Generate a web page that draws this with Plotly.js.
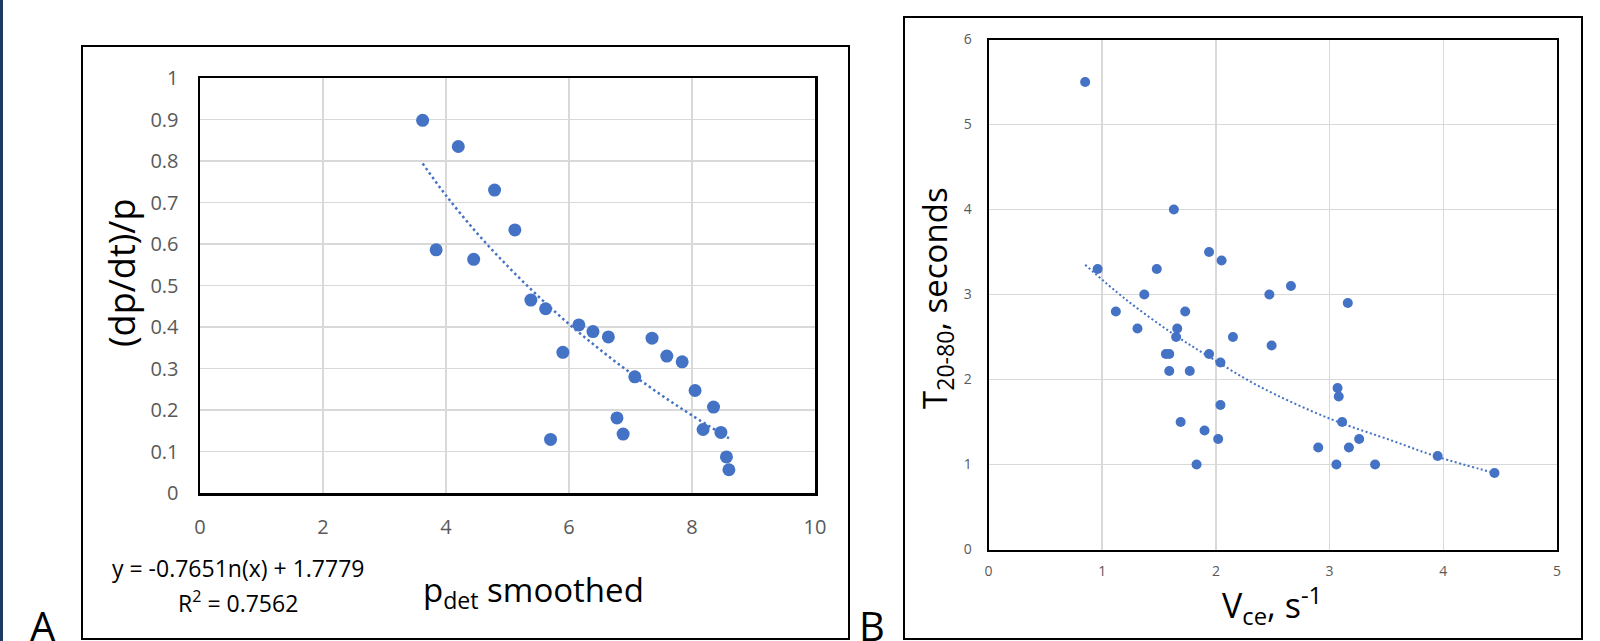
<!DOCTYPE html>
<html>
<head>
<meta charset="utf-8">
<script src="https://cdn.plot.ly/plotly-3.0.1.min.js"></script>
<style>
  html, body { margin: 0; padding: 0; background: #ffffff; }
  #chart { width: 1600px; height: 641px; }
</style>
</head>
<body>
<div id="chart"></div>
<script>
// ---------- Panel A data ----------
const pdetSmoothed = [3.62, 4.20, 4.79, 5.12, 3.84, 4.45, 5.38, 5.62, 6.16, 6.39, 6.64, 5.90, 7.35, 7.59, 7.84, 7.07, 8.05, 8.35, 6.78, 6.88, 8.18, 8.47, 5.70, 8.56, 8.60];
const dpdtOverP    = [0.898, 0.835, 0.730, 0.634, 0.586, 0.563, 0.465, 0.444, 0.405, 0.389, 0.376, 0.339, 0.373, 0.330, 0.316, 0.280, 0.247, 0.207, 0.181, 0.142, 0.153, 0.146, 0.129, 0.087, 0.056];
// log trendline as drawn (y = -0.765 ln(x) + 1.7779)
const trendAx = [3.62, 4.0, 4.5, 5.0, 5.5, 6.0, 6.5, 7.0, 7.5, 8.0, 8.6];
const trendAy = [0.794, 0.717, 0.627, 0.547, 0.474, 0.407, 0.346, 0.289, 0.236, 0.187, 0.132];
const equationText = "y = -0.7651n(x) + 1.7779";
const r2Text = "R<sup>2</sup> = 0.7562";

// ---------- Panel B data ----------
const vce = [0.85, 0.96, 1.48, 1.63, 1.94, 2.05, 1.37, 2.47, 2.66, 3.16, 1.12, 1.73, 1.31, 1.66, 1.65, 2.15, 2.49, 1.56, 1.59, 1.94, 2.04, 1.59, 1.77, 2.04, 1.69, 1.90, 2.02, 1.83, 3.07, 3.08, 3.11, 3.26, 2.90, 3.17, 3.06, 3.40, 3.95, 4.45];
const t2080 = [5.5, 3.3, 3.3, 4.0, 3.5, 3.4, 3.0, 3.0, 3.1, 2.9, 2.8, 2.8, 2.6, 2.6, 2.5, 2.5, 2.4, 2.3, 2.3, 2.3, 2.2, 2.1, 2.1, 1.7, 1.5, 1.4, 1.3, 1.0, 1.9, 1.8, 1.5, 1.3, 1.2, 1.2, 1.0, 1.0, 1.1, 0.9];
// trendline points
const trendBx = [0.85, 1.2, 1.62, 1.95, 2.38, 3.0, 3.55, 3.95, 4.45];
const trendBy = [3.35, 2.95, 2.54, 2.26, 1.92, 1.54, 1.28, 1.09, 0.90];

// ---------- helpers (page pixels -> paper fractions) ----------
const W = 1600, H = 641;
const px = v => v / W;
const py = v => 1 - v / H;

const blue = '#4472c4';
const tickGray = '#595959';
const gridCol = '#d9d9d9';
const titleFont = "'Open Sans', 'Noto Sans', sans-serif";

const traces = [
  { x: trendAx, y: trendAy, xaxis: 'x', yaxis: 'y', mode: 'lines', type: 'scatter',
    line: { color: blue, width: 2.5, dash: '2.5px,3px', shape: 'spline' }, hoverinfo: 'skip' },
  { x: pdetSmoothed, y: dpdtOverP, xaxis: 'x', yaxis: 'y', mode: 'markers', type: 'scatter',
    marker: { color: blue, size: 13 } },
  { x: trendBx, y: trendBy, xaxis: 'x2', yaxis: 'y2', mode: 'lines', type: 'scatter',
    line: { color: blue, width: 2, dash: '2px,2.5px', shape: 'spline' }, hoverinfo: 'skip' },
  { x: vce, y: t2080, xaxis: 'x2', yaxis: 'y2', mode: 'markers', type: 'scatter',
    marker: { color: blue, size: 10 } }
];

const axisCommon = {
  showgrid: true, gridcolor: gridCol, gridwidth: 1.5, zeroline: false,
  showline: true, mirror: true, linecolor: '#000000', ticks: '', fixedrange: true
};

const layout = {
  width: W, height: H, autosize: false,
  margin: { l: 0, r: 0, t: 0, b: 0, pad: 0 },
  paper_bgcolor: '#ffffff', plot_bgcolor: '#ffffff',
  showlegend: false,
  xaxis: Object.assign({}, axisCommon, {
    domain: [px(200), px(815)], range: [0, 10], dtick: 2, tick0: 0, linewidth: 2.5,
    anchor: 'y', tickfont: { family: titleFont, size: 20, color: tickGray }, ticklabelstandoff: 14
  }),
  yaxis: Object.assign({}, axisCommon, {
    domain: [py(493), py(78)], range: [0, 1], dtick: 0.1, tick0: 0, linewidth: 2.5,
    anchor: 'x', tickfont: { family: titleFont, size: 20, color: tickGray }, ticklabelstandoff: 15
  }),
  xaxis2: Object.assign({}, axisCommon, {
    domain: [px(988.5), px(1557)], range: [0, 5], dtick: 1, tick0: 0, linewidth: 2,
    anchor: 'y2', tickfont: { family: titleFont, size: 14, color: tickGray }, ticklabelstandoff: 8
  }),
  yaxis2: Object.assign({}, axisCommon, {
    domain: [py(549.5), py(39.5)], range: [0, 6], dtick: 1, tick0: 0, linewidth: 2,
    anchor: 'x2', tickfont: { family: titleFont, size: 14, color: tickGray }, ticklabelstandoff: 12
  }),
  shapes: [
    { type: 'rect', xref: 'paper', yref: 'paper', x0: 0, x1: px(3), y0: 0, y1: 1,
      fillcolor: '#1f3864', line: { width: 0 } },
    { type: 'rect', xref: 'paper', yref: 'paper', x0: px(82), x1: px(849), y0: py(639), y1: py(46),
      line: { color: '#000000', width: 2 } },
    { type: 'rect', xref: 'paper', yref: 'paper', x0: px(904), x1: px(1582), y0: py(639), y1: py(17),
      line: { color: '#000000', width: 2 } }
  ],
  annotations: [
    { xref: 'paper', yref: 'paper', x: px(121), y: py(273), text: '(dp/dt)/p', textangle: -90,
      showarrow: false, xanchor: 'center', yanchor: 'middle',
      font: { family: titleFont, size: 36, color: '#000000' } },
    { xref: 'paper', yref: 'paper', x: px(533), y: py(591), text: 'p<sub>det</sub> smoothed',
      showarrow: false, xanchor: 'center', yanchor: 'middle',
      font: { family: titleFont, size: 33, color: '#000000' } },
    { xref: 'paper', yref: 'paper', x: px(110), y: py(568), text: equationText,
      showarrow: false, xanchor: 'left', yanchor: 'middle',
      font: { family: titleFont, size: 23, color: '#000000' } },
    { xref: 'paper', yref: 'paper', x: px(238), y: py(602), text: r2Text,
      showarrow: false, xanchor: 'center', yanchor: 'middle',
      font: { family: titleFont, size: 23, color: '#000000' } },
    { xref: 'paper', yref: 'paper', x: px(43), y: py(596), text: 'A',
      showarrow: false, xanchor: 'center', yanchor: 'top',
      font: { family: titleFont, size: 40, color: '#000000' } },
    { xref: 'paper', yref: 'paper', x: px(872), y: py(596), text: 'B',
      showarrow: false, xanchor: 'center', yanchor: 'top',
      font: { family: titleFont, size: 40, color: '#000000' } },
    { xref: 'paper', yref: 'paper', x: px(936), y: py(298), text: 'T<sub>20-80</sub>, seconds', textangle: -90,
      showarrow: false, xanchor: 'center', yanchor: 'middle',
      font: { family: titleFont, size: 33, color: '#000000' } },
    { xref: 'paper', yref: 'paper', x: px(1272), y: py(605), text: 'V<sub>ce</sub>, s<sup>-1</sup>',
      showarrow: false, xanchor: 'center', yanchor: 'middle',
      font: { family: titleFont, size: 34, color: '#000000' } }
  ]
};

Plotly.newPlot('chart', traces, layout, { staticPlot: true, displayModeBar: false });
</script>
</body>
</html>
